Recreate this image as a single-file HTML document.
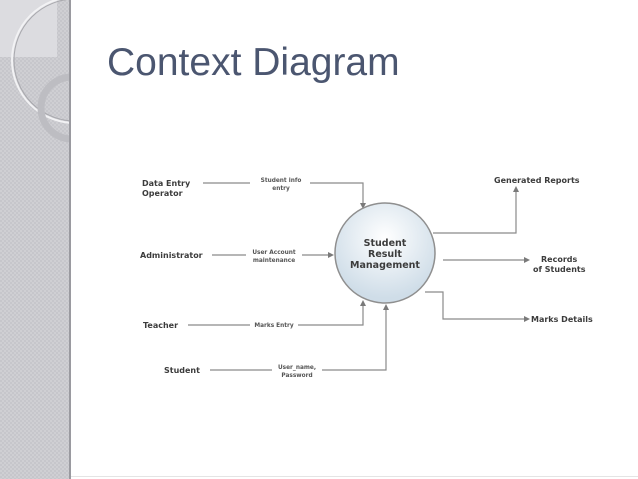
<!DOCTYPE html>
<html><head><style>
html,body{margin:0;padding:0;background:#fff;}
body{width:638px;height:479px;overflow:hidden;position:relative;font-family:"DejaVu Sans","Liberation Sans",sans-serif;}
</style></head><body>
<svg width="638" height="479" viewBox="0 0 638 479" xmlns="http://www.w3.org/2000/svg" style="position:absolute;left:0;top:0">
<defs>
<pattern id="chk" width="4" height="4" patternUnits="userSpaceOnUse">
<rect width="4" height="4" fill="#cfcfd3"/><rect width="2" height="2" fill="#c6c6cb"/><rect x="2" y="2" width="2" height="2" fill="#c6c6cb"/>
</pattern>
<radialGradient id="cg" cx="50%" cy="35%" r="60%">
<stop offset="0" stop-color="#ffffff"/><stop offset="1" stop-color="#cfdde8"/>
</radialGradient>
<clipPath id="sb"><rect x="0" y="0" width="69" height="479"/></clipPath>
</defs>
<rect x="0" y="0" width="69" height="479" fill="url(#chk)"/>
<g clip-path="url(#sb)">
<rect x="0" y="0" width="57" height="57" fill="#dcdce0"/>
<circle cx="75" cy="60" r="63" fill="none" stroke="#f2f2f4" stroke-width="2"/>
<circle cx="75" cy="60" r="61" fill="none" stroke="#a8a8ad" stroke-width="1"/>
<circle cx="72" cy="108" r="31" fill="none" stroke="#bdbdc2" stroke-width="7"/>
</g>
<rect x="69" y="0" width="2" height="479" fill="#9a9aa0"/>
<rect x="71" y="476" width="567" height="1" fill="#e4e4e4"/>
<text x="107" y="75" font-family="Liberation Sans, sans-serif" font-size="39" fill="#4b5670">Context Diagram</text>

<g stroke="#8a8a8a" stroke-width="1.2" fill="none">
<polyline points="203,183 250,183"/><polyline points="310,183 363,183 363,206"/>
<polyline points="212,255 246,255"/><polyline points="302,255 330,255"/>
<polyline points="188,325 250,325"/><polyline points="298,325 363,325 363,304"/>
<polyline points="210,370 272,370"/><polyline points="322,370 386,370 386,308"/>
<polyline points="433,233 516,233 516,190"/>
<polyline points="443,260 525,260"/>
<polyline points="425,292 443,292 443,319 525,319"/>
</g>
<g fill="#7a7a7a">
<polygon points="360,203 366,203 363,209"/>
<polygon points="328,252 328,258 334,255"/>
<polygon points="360,306 366,306 363,300"/>
<polygon points="383,310 389,310 386,304"/>
<polygon points="513,192 519,192 516,186"/>
<polygon points="524,257 524,263 530,260"/>
<polygon points="524,316 524,322 530,319"/>
</g>
<circle cx="385" cy="253" r="50" fill="url(#cg)" stroke="#8f8f8f" stroke-width="1.5"/>
<g font-weight="bold" fill="#3c3c3c" font-size="9.5" text-anchor="middle">
<text x="385" y="246">Student</text><text x="385" y="257">Result</text><text x="385" y="268">Management</text>
</g>
<g font-weight="bold" fill="#3c3c3c" font-size="8">
<text x="142" y="186">Data Entry</text><text x="142" y="196">Operator</text>
<text x="140" y="258">Administrator</text>
<text x="143" y="328">Teacher</text>
<text x="164" y="373">Student</text>
<text x="494" y="183">Generated Reports</text>
<text x="541" y="262">Records</text><text x="533" y="272">of Students</text>
<text x="531" y="322">Marks Details</text>
</g>
<g font-weight="bold" fill="#555" font-size="5.8" text-anchor="middle">
<text x="281" y="182">Student info</text><text x="281" y="190">entry</text>
<text x="274" y="254">User Account</text><text x="274" y="262">maintenance</text>
<text x="274" y="327">Marks Entry</text>
<text x="297" y="369">User_name,</text><text x="297" y="377">Password</text>
</g>
</svg>
</body></html>
